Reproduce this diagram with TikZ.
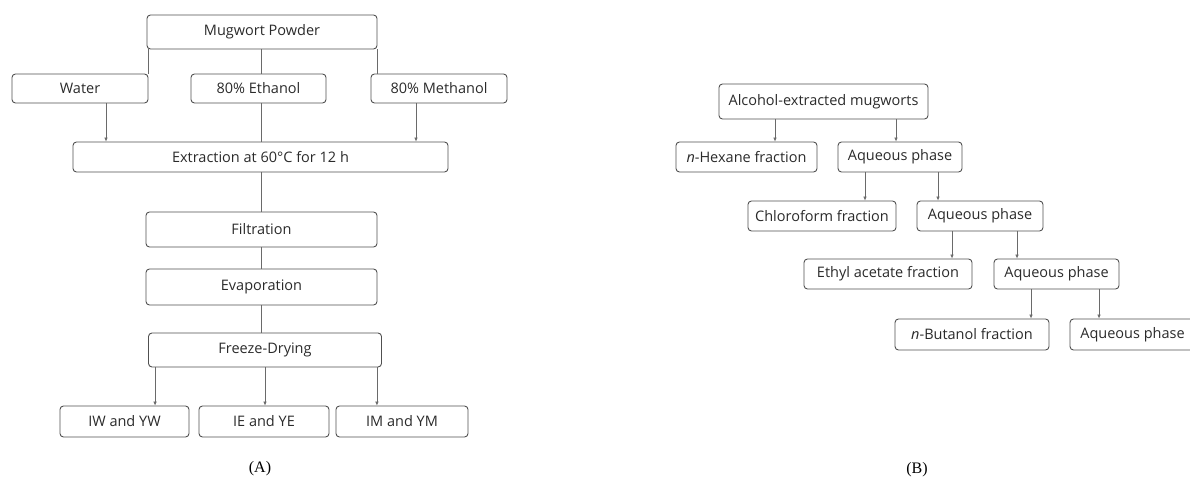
\documentclass[tikz,border=0pt]{standalone}
\usepackage{fontspec}
\setmainfont{Open Sans}
\newfontfamily\labfont{Liberation Serif}
\usetikzlibrary{arrows.meta}
\definecolor{boxc}{HTML}{505050}
\definecolor{linec}{HTML}{6A6A6A}
\definecolor{txtc}{HTML}{2A2A2A}
\tikzset{
  box/.style={draw=boxc, line width=0.9pt, rounded corners=3.5pt, rectangle, inner sep=0pt,
    text=txtc, font=\fontsize{14.5}{16}\selectfont, align=center},
  conn/.style={draw=linec, line width=0.6pt},
  arr/.style={conn, -{Latex[length=4pt,width=3.6pt]}},
  lab/.style={font=\labfont\fontsize{16}{18}\selectfont, text=black}
}
\begin{document}
\begin{tikzpicture}[x=1pt,y=-1pt]
\useasboundingbox (0,0) rectangle (1190,478);
% ---- (A) ----
\node[box, minimum width=230, minimum height=34] (MP) at (262,32) {Mugwort Powder};
\node[box, minimum width=136, minimum height=29] (Water) at (80,88.5) {Water};
\node[box, minimum width=135, minimum height=29] (Eth) at (258.5,88.5) {80\% Ethanol};
\node[box, minimum width=136, minimum height=29] (Meth) at (439,88.5) {80\% Methanol};
\node[box, minimum width=375, minimum height=30] (Ext) at (260.5,157) {Extraction at 60°C for 12 h};
\node[box, minimum width=231, minimum height=35] (Filt) at (261.5,229.5) {Filtration};
\node[box, minimum width=231, minimum height=36] (Evap) at (261.5,287) {Evaporation};
\node[box, minimum width=233, minimum height=34] (FD) at (265,350) {Freeze-Drying};
\node[box, minimum width=129, minimum height=31] (IW) at (124.5,421.5) {IW and YW};
\node[box, minimum width=130, minimum height=31] (IE) at (264,421.5) {IE and YE};
\node[box, minimum width=132, minimum height=31] (IM) at (402,421.5) {IM and YM};
\node[lab] (LA) at (260,469) {(A)};

\draw[conn] (Water.north east |- MP.south) -- (Water.north east);
\draw[conn] ([xshift=-1pt]MP.south) -- ([xshift=-1pt]MP.south |- Eth.north);
\draw[conn] (MP.south east) -- (MP.south east |- Meth.north);
\draw[conn] ([xshift=-1pt]MP.south |- Eth.south) -- ([xshift=-1pt]MP.south |- Ext.north);
\draw[arr] ([xshift=26pt]Water.south) -- ([xshift=26pt]Water.south |- Ext.north);
\draw[arr] ([xshift=-23pt]Meth.south) -- ([xshift=-23pt]Meth.south |- Ext.north);
\draw[conn] (Filt.north |- Ext.south) -- (Filt.north);
\draw[conn] (Filt.south) -- (Evap.north);
\draw[conn] (Evap.south) -- (Evap.south |- FD.north);
\draw[arr] ([xshift=7pt]FD.south west) -- ([xshift=7pt]FD.south west |- IW.north);
\draw[arr] (FD.south) -- (FD.south |- IE.north);
\draw[arr] ([xshift=-5pt]FD.south east) -- ([xshift=-5pt]FD.south east |- IM.north);

% ---- (B) ----
\node[box, minimum width=209, minimum height=35] (AEM) at (823.5,101.5) {Alcohol-extracted mugworts};
\node[box, minimum width=141, minimum height=30] (Hex) at (746.5,157) {\textit{n}-Hexane fraction};
\node[box, minimum width=124, minimum height=30] (Aq1) at (900,157) {Aqueous phase};
\node[box, minimum width=148, minimum height=30] (Chl) at (822,216) {Chloroform fraction};
\node[box, minimum width=126, minimum height=30] (Aq2) at (980,216) {Aqueous phase};
\node[box, minimum width=168, minimum height=30] (EA) at (888,274) {Ethyl acetate fraction};
\node[box, minimum width=125, minimum height=30] (Aq3) at (1056.5,274) {Aqueous phase};
\node[box, minimum width=154, minimum height=31] (But) at (972,334.5) {\textit{n}-Butanol fraction};
\node[box, minimum width=125, minimum height=31] (Aq4) at (1132.5,334.5) {Aqueous phase};
\node[lab] (LB) at (917,470) {(B)};

\draw[arr] ([xshift=-48.5pt]AEM.south) -- ([xshift=-48.5pt]AEM.south |- Hex.north);
\draw[arr] ([xshift=72.5pt]AEM.south) -- ([xshift=72.5pt]AEM.south |- Aq1.north);
\draw[arr] ([xshift=-35pt]Aq1.south) -- ([xshift=-35pt]Aq1.south |- Chl.north);
\draw[arr] ([xshift=38pt]Aq1.south) -- ([xshift=38pt]Aq1.south |- Aq2.north);
\draw[arr] ([xshift=-28pt]Aq2.south) -- ([xshift=-28pt]Aq2.south |- EA.north);
\draw[arr] ([xshift=37pt]Aq2.south) -- ([xshift=37pt]Aq2.south |- Aq3.north);
\draw[arr] ([xshift=-25.5pt]Aq3.south) -- ([xshift=-25.5pt]Aq3.south |- But.north);
\draw[arr] ([xshift=42.5pt]Aq3.south) -- ([xshift=42.5pt]Aq3.south |- Aq4.north);
\end{tikzpicture}
\end{document}
